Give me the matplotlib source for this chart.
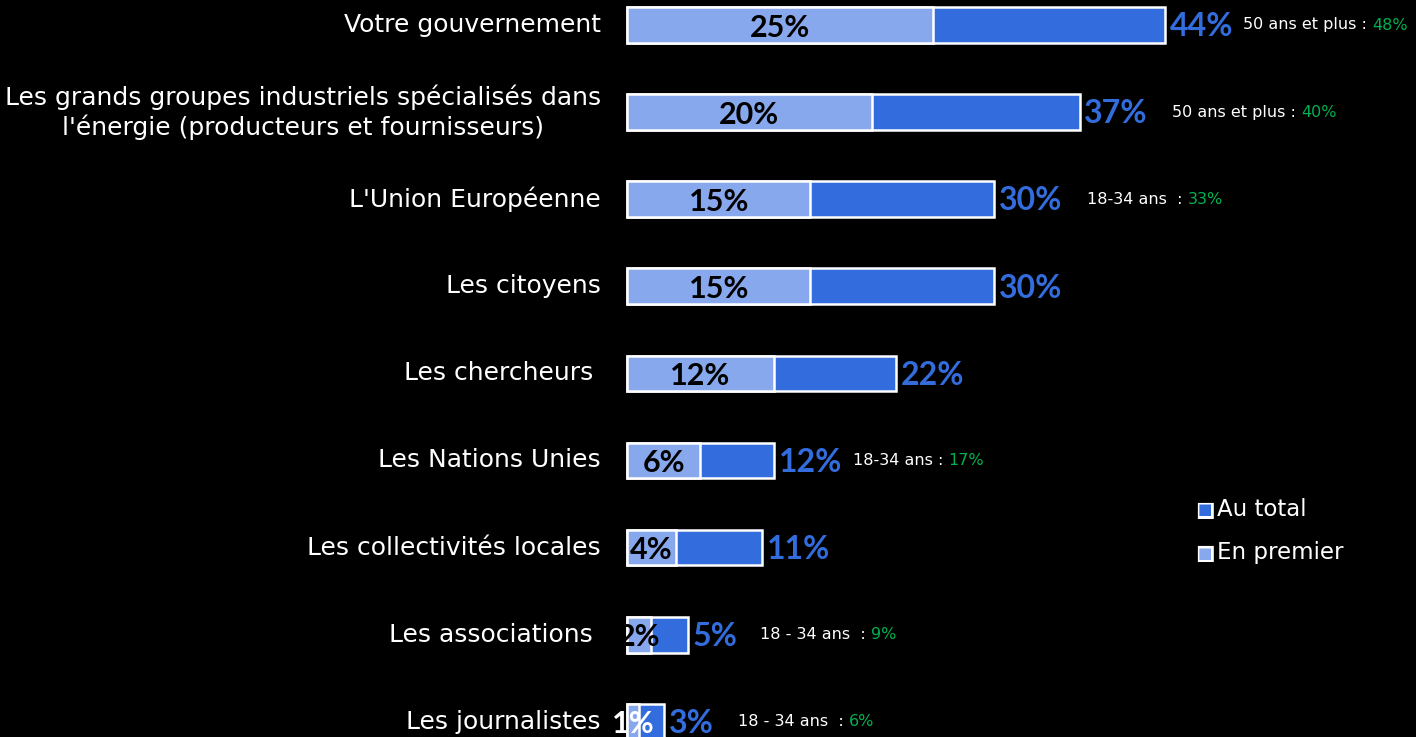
import matplotlib.pyplot as plt

# data
categories = [
    "Votre gouvernement",
    "Les grands groupes industriels spécialisés dans\nl'énergie (producteurs et fournisseurs)",
    "L'Union Européenne",
    "Les citoyens",
    "Les chercheurs ",
    "Les Nations Unies",
    "Les collectivités locales",
    "Les associations ",
    "Les journalistes",
]
au_total = [44, 37, 30, 30, 22, 12, 11, 5, 3]
en_premier = [25, 20, 15, 15, 12, 6, 4, 2, 1]
# sub-group notes (label, value) per row, None where there is none
notes = [
    ("50 ans et plus : ", "48%"),
    ("50 ans et plus : ", "40%"),
    ("18-34 ans  : ", "33%"),
    None,
    None,
    ("18-34 ans : ", "17%"),
    None,
    ("18 - 34 ans  : ", "9%"),
    ("18 - 34 ans  : ", "6%"),
]

dark_blue = "#336ddd"
light_blue = "#87a8ec"
green = "#00b050"

plt.rcParams['font.family'] = ['DejaVu Sans']

fig = plt.figure(figsize=(14.16, 7.37), dpi=100, facecolor="black")
ax = fig.add_axes([0, 0, 1, 1])
ax.set_facecolor("black")

px = 12.23  # pixels per percent
ax.set_xlim(-627 / px, (1416 - 627) / px)
ax.set_ylim((737 - 25) / 87.1, -25 / 87.1)
ax.axis("off")

rows = list(range(len(categories)))
h = 0.41

ax.barh(rows, au_total, height=h, color=dark_blue, edgecolor="white", linewidth=1.8)
ax.barh(rows, en_premier, height=h, color=light_blue, edgecolor="white", linewidth=1.8)

for i in rows:
    ax.text(-26 / px, i, categories[i], ha="right", va="center", color="white",
            fontsize=18, multialignment="center", linespacing=1.2)
    ax.text(au_total[i] + 0.4, i + 0.02, f"{au_total[i]}%", ha="left", va="center",
            color=dark_blue, fontsize=23, fontweight="bold", family="Lato")
    c = "white" if en_premier[i] == 1 else "black"
    ax.text(en_premier[i] / 2, i + 0.03, f"{en_premier[i]}%", ha="center", va="center",
            color=c, fontsize=22, fontweight="bold", family="Lato")

# positions of the notes, left edge in pixels
note_x = [1243, 1172, 1087, None, None, 853, None, 760, 738]
for i in rows:
    if notes[i] is None:
        continue
    x0 = (note_x[i] - 627) / px
    t = ax.text(x0, i, notes[i][0], ha="left", va="center", color="white",
                fontsize=11.5)
    fig.canvas.draw()
    bb = t.get_window_extent()
    x1 = ax.transData.inverted().transform((bb.x1, 0))[0]
    ax.text(x1, i, notes[i][1], ha="left", va="center", color=green,
            fontsize=11.5)

# legend
for yy, col, lab in [(510, dark_blue, "Au total"), (553, light_blue, "En premier")]:
    fig.text(1205 / 1416, 1 - yy / 737, "■", color="white", fontsize=15,
             ha="center", va="center")
    fig.text(1205 / 1416, 1 - yy / 737, "■", color=col, fontsize=11,
             ha="center", va="center")
    fig.text(1217 / 1416, 1 - yy / 737, lab, color="white", fontsize=16.5,
             ha="left", va="center")

fig.savefig("out.png", dpi=100, facecolor="black")
